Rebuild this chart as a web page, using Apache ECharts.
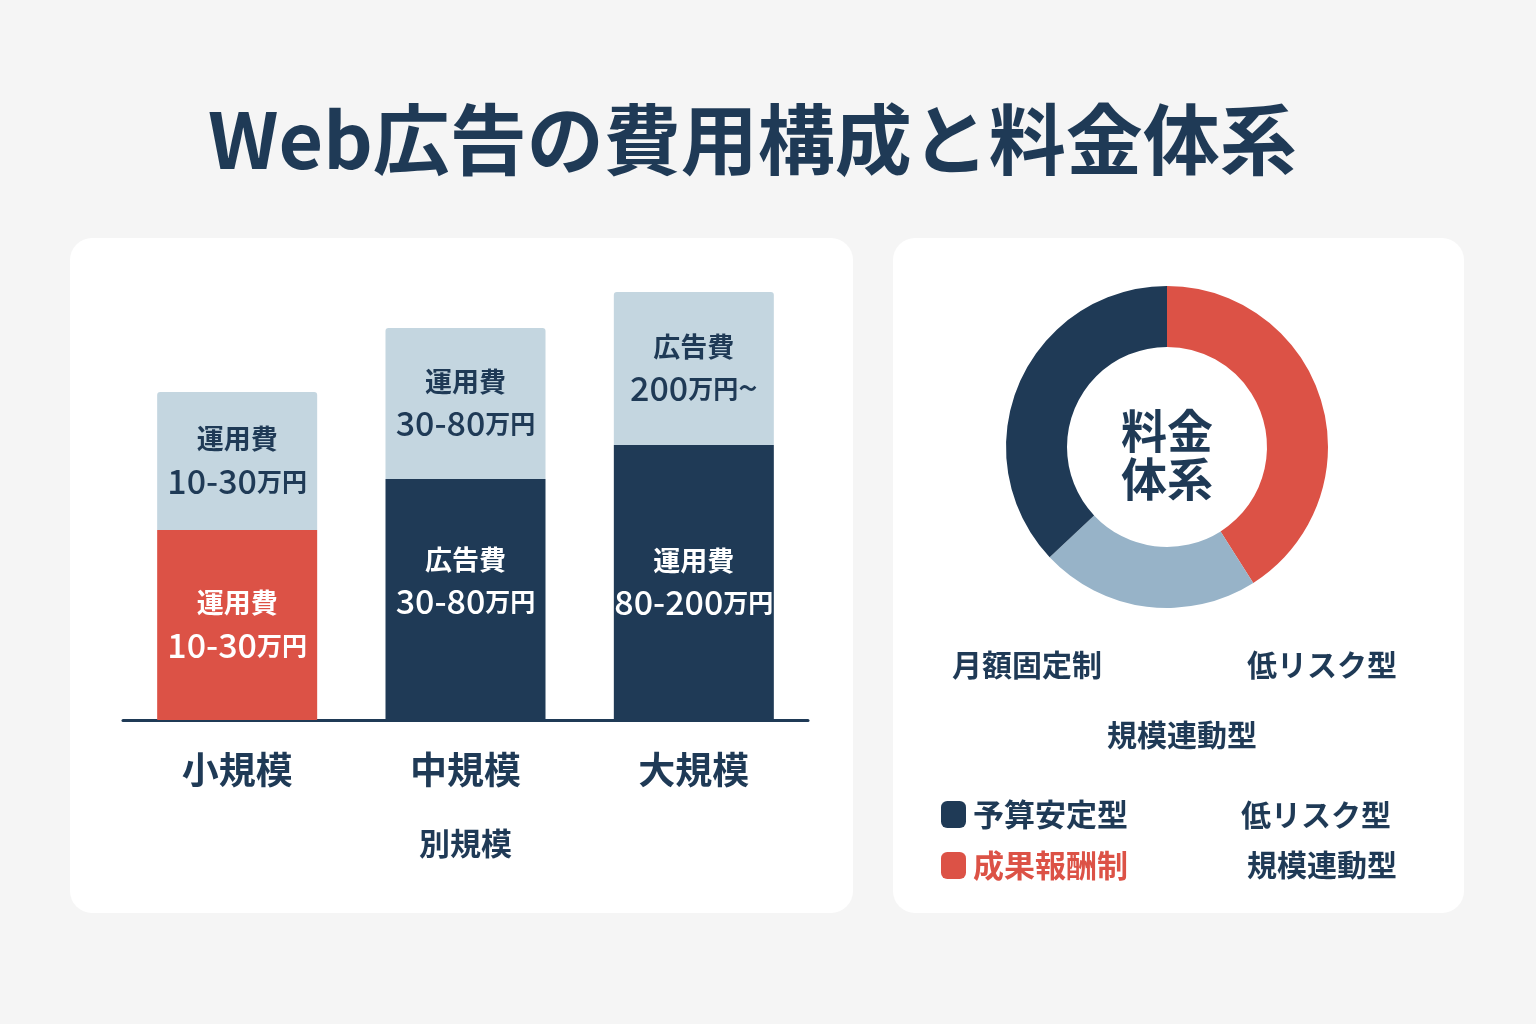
<!DOCTYPE html>
<html><head><meta charset="utf-8">
<script src="https://cdn.jsdelivr.net/npm/echarts@6/dist/echarts.min.js"></script>
<style>html,body{margin:0;padding:0;background:#f5f5f5;}#c{width:1536px;height:1024px;}</style>
</head><body><div id="c"></div>
<script>
const titleText = 'Web広告の費用構成と料金体系';
const categories = ['小規模', '中規模', '大規模'];
const axisName = '別規模';
const bottomValues = [190, 241, 275];
const topValues = [138, 151, 153];
const bottomLabels = ['運用費\n10-30万円', '広告費\n30-80万円', '運用費\n80-200万円'];
const topLabels = ['運用費\n10-30万円', '運用費\n30-80万円', '広告費\n200万円~'];
const pieNames = ['成果報酬制', '規模連動型', '予算安定型'];
const pieValues = [41, 22, 37];
const pieCenterText = '料金\n体系';
const donutTexts = ['月額固定制', '低リスク型', '規模連動型'];
const legendNames = ['予算安定型', '成果報酬制'];
const legendRightTexts = ['低リスク型', '規模連動型'];

const NAVY = '#1f3a56', RED = '#dc5246', LIGHT = '#c4d6e0', PIELIGHT = '#97b3c8';
const FONT = '"Noto Sans CJK JP", "Noto Sans", sans-serif';
const bottomColors = [RED, NAVY, NAVY];
const bottomLabelOffsets = [[0, 0], [0, -18], [0, 0]];

function fmt(labels) {
  return p => {
    const parts = labels[p.dataIndex].split('\n');
    return '{a|' + parts[0] + '}\n{b|' + parts[1].replace('万円', '}{u|万円}{b|') + '}';
  };
}
function rich(color) {
  return {
    a: {fontSize: 27, fontWeight: 'bold', color, fontFamily: FONT, lineHeight: 40},
    b: {fontSize: 34, fontWeight: 500, color, fontFamily: FONT, lineHeight: 44},
    u: {fontSize: 25, fontWeight: 'bold', color, fontFamily: FONT, lineHeight: 44}
  };
}
function txt(t, x, y, color) {
  return {type: 'text', z: 10, x, y, style: {text: t, fontSize: 30, fontWeight: 'bold', fill: color || NAVY,
    fontFamily: FONT, align: 'center', verticalAlign: 'middle'}};
}

const chart = echarts.init(document.getElementById('c'));
chart.setOption({
  backgroundColor: '#f5f5f5',
  animation: false,
  title: {text: titleText, left: 203, top: 96,
    textStyle: {fontSize: 77, fontWeight: 'bold', color: NAVY, fontFamily: FONT}},
  grid: {left: 123, right: 728, top: 270, bottom: 304},
  xAxis: {type: 'category', data: categories,
    axisLine: {lineStyle: {color: NAVY, width: 3}}, axisTick: {show: false},
    axisLabel: {fontSize: 37, fontWeight: 'bold', color: NAVY, fontFamily: FONT, margin: 31},
    name: axisName, nameLocation: 'middle', nameGap: 108,
    nameTextStyle: {fontSize: 31, fontWeight: 'bold', color: NAVY, fontFamily: FONT}},
  yAxis: {type: 'value', min: 0, max: 450, show: false, splitLine: {show: false}},
  legend: {data: [
      {name: legendNames[0], textStyle: {color: NAVY}},
      {name: legendNames[1], textStyle: {color: RED}}],
    orient: 'vertical', left: 936, top: 794, icon: 'roundRect', itemWidth: 25, itemHeight: 27,
    itemGap: 20, selectedMode: false,
    textStyle: {fontSize: 31, fontWeight: 'bold', fontFamily: FONT, padding: [0,0,0,2]}},
  graphic: [
    {type: 'rect', z: -10, shape: {x: 70, y: 238, width: 783, height: 675, r: 22}, style: {fill: '#ffffff'}},
    {type: 'rect', z: -10, shape: {x: 893, y: 238, width: 571, height: 675, r: 22}, style: {fill: '#ffffff'}},
    {type: 'text', z: 10, x: 1167, y: 455, style: {text: pieCenterText, fontSize: 46, fontWeight: 'bold', fill: NAVY, fontFamily: FONT, lineHeight: 48, align: 'center', verticalAlign: 'middle'}},
    txt(donutTexts[0], 1027, 665),
    txt(donutTexts[1], 1322, 665),
    txt(donutTexts[2], 1182, 735),
    txt(legendRightTexts[0], 1316, 815),
    txt(legendRightTexts[1], 1322, 865)
  ],
  series: [
    {type: 'bar', stack: 's', barWidth: 160,
      data: bottomValues.map((v, i) => ({value: v, itemStyle: {color: bottomColors[i]},
        label: {offset: bottomLabelOffsets[i]}})),
      label: {show: true, position: 'inside', formatter: fmt(bottomLabels), rich: rich('#ffffff')}},
    {type: 'bar', stack: 's', barWidth: 160,
      data: topValues, itemStyle: {color: LIGHT, borderRadius: [3, 3, 0, 0]},
      label: {show: true, position: 'inside', formatter: fmt(topLabels), rich: rich(NAVY)}},
    {type: 'pie', center: [1167, 447], radius: [100, 161], startAngle: 90, clockwise: true,
      label: {show: false}, labelLine: {show: false},
      data: pieNames.map((n, i) => ({name: n, value: pieValues[i],
        itemStyle: {color: [RED, PIELIGHT, NAVY][i]}}))}
  ]
});
</script></body></html>
